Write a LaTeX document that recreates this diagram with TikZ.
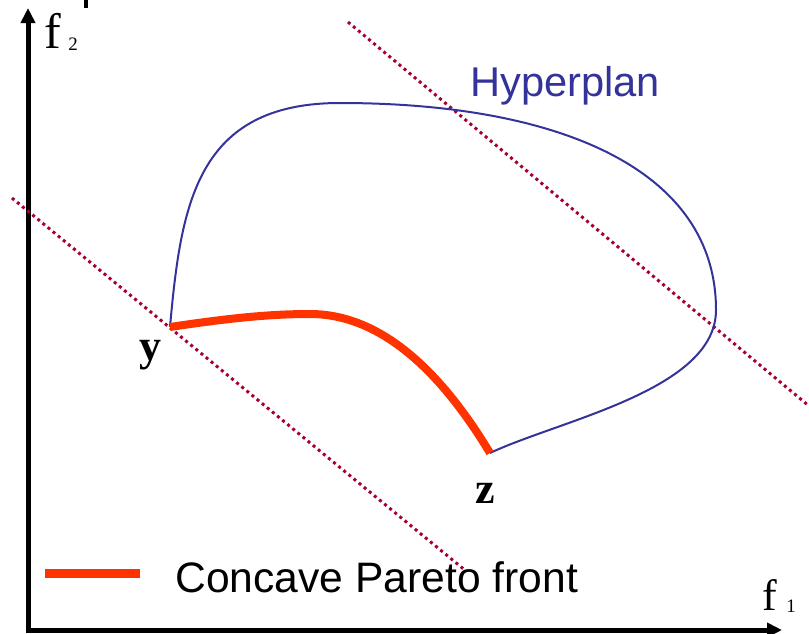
\documentclass[tikz,border=0pt]{standalone}
\usepackage{fontspec}
\setmainfont{Liberation Serif}
\newfontfamily\arialfont{Liberation Sans}
\usepackage{xcolor}
\definecolor{plum}{HTML}{333399}
\definecolor{flame}{HTML}{FF3300}
\definecolor{wine}{HTML}{A8002E}
\usetikzlibrary{arrows.meta}

\begin{document}
\begin{tikzpicture}[x=0.5pt, y=-0.5pt,
  axis/.style={line width=2.5pt, -{Triangle[length=7.5pt,width=7pt]}},
  hyper/.style={color=wine, line width=1.5pt, dash pattern=on 1.5pt off 1.8pt},
  front/.style={color=flame, line width=4pt},
  region/.style={color=plum, line width=1pt},
  lbl/.style={font=\fontsize{22pt}{26pt}\selectfont\bfseries, anchor=base}]
  \useasboundingbox (0,0) rectangle (809,633);

  % Axes
  \coordinate (o) at (28,630);
  \draw[axis] (28,632) -- (28,8) coordinate (top);
  \draw[axis] (26,630) -- (782,630) coordinate (right);
  \fill (84,0) rectangle (88,8);
  \node[anchor=base west, inner sep=0pt, font=\fontsize{25pt}{28pt}\selectfont] (f2) at (44,48) {f};
  \node[anchor=base west, inner sep=0pt, font=\fontsize{9.5pt}{11pt}\selectfont] (f2s) at (68,50) {2};
  \node[anchor=base west, inner sep=0pt, font=\fontsize{22pt}{26pt}\selectfont] (f1) at (762,610) {f};
  \node[anchor=base west, inner sep=0pt, font=\fontsize{9.5pt}{11pt}\selectfont] (f1s) at (786,612) {1};

  % Extreme points
  \coordinate (y) at (170,327);
  \coordinate (z) at (490,453);
  \coordinate (e) at (716,310);
  \coordinate (t) at (340,103);
  \coordinate (p) at (310,314);
  \node[lbl] (ylbl) at (150,360) {y};
  \node[lbl] (zlbl) at (485,503) {z};

  % Hyperplanes
  \coordinate (h1a) at (12,198);
  \coordinate (h1b) at (466,571);
  \coordinate (h2a) at (348,22);
  \coordinate (h2b) at (809,406);
  \draw[hyper] (h1a) -- (h1b);
  \draw[hyper] (h2a) -- (h2b);

  % Feasible region boundary
  \draw[region] (y) .. controls (181,205) and (196,103) .. (t)
    .. controls (560,103) and (716,170) .. (e)
    .. controls (716,390) and (560,420) .. (z);

  % Pareto front
  \draw[front] (y) .. controls (230,318) and (270,314) .. (p)
    .. controls (380,314) and (440,370) .. (z);

  \node[anchor=base west, inner sep=0pt, text=plum, font=\arialfont\fontsize{20.8pt}{24pt}\selectfont] (hp) at (470,96) {Hyperplan};

  % Legend
  \coordinate (la) at (45,573);
  \coordinate (lb) at (140,573);
  \draw[front, line width=4.5pt] (la) -- (lb);
  \node[anchor=base west, inner sep=0pt, font=\arialfont\fontsize{21.3pt}{24pt}\selectfont] (leg) at (175,592) {Concave Pareto front};
\end{tikzpicture}
\end{document}
